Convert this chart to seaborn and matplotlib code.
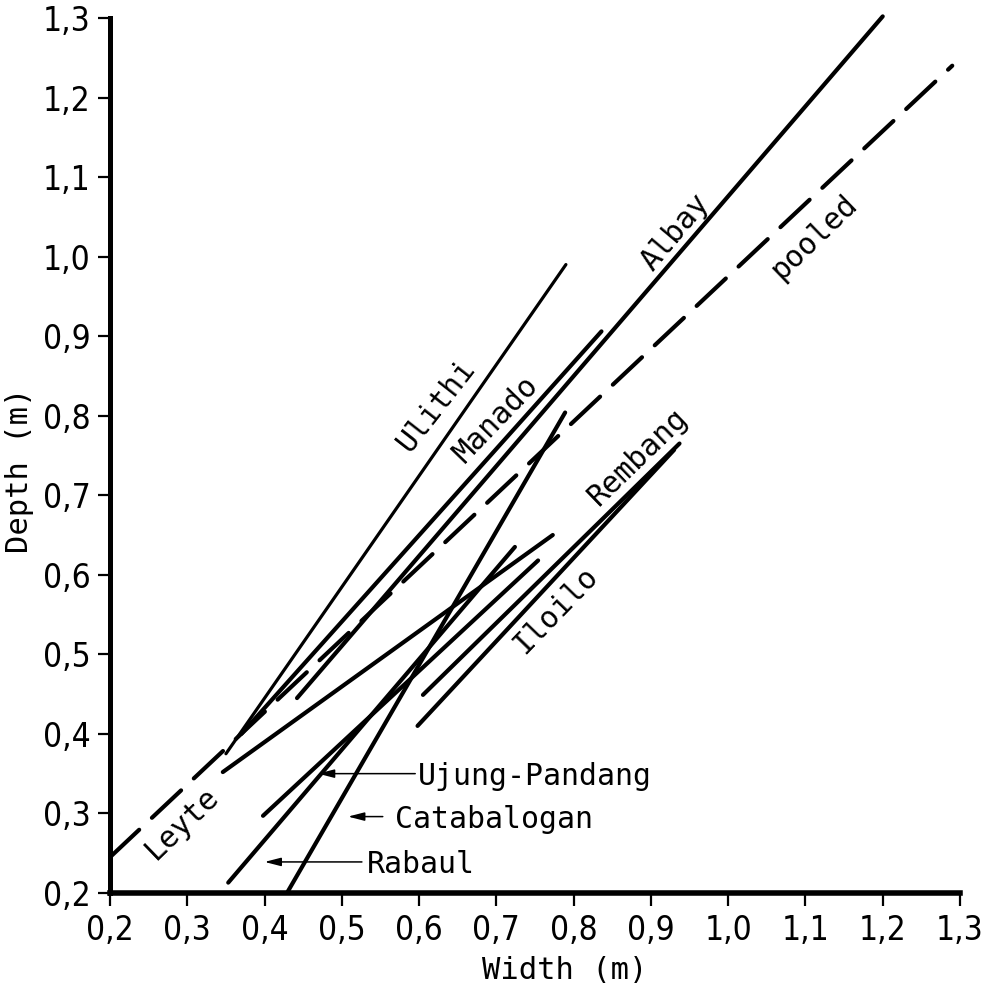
import numpy as np
import pandas as pd
import matplotlib
matplotlib.use("Agg")
import matplotlib.pyplot as plt
from matplotlib import font_manager
import seaborn as sns

# ---- data ----
sites   = ["pooled", "Albay", "Manado", "Ulithi", "Catabalogan", "Rabaul",
           "Ujung-Pandang", "Leyte", "Rembang", "Iloilo"]
x_start = [0.200, 0.442, 0.370, 0.350, 0.429, 0.353, 0.398, 0.346, 0.605, 0.598]
y_start = [0.245, 0.445, 0.400, 0.375, 0.200, 0.213, 0.297, 0.352, 0.449, 0.410]
x_end   = [1.290, 1.200, 0.836, 0.790, 0.789, 0.724, 0.754, 0.773, 0.937, 0.930]
y_end   = [1.240, 1.302, 0.906, 0.990, 0.804, 0.635, 0.618, 0.650, 0.765, 0.757]

x_ticks = [0.2, 0.3, 0.4, 0.5, 0.6, 0.7, 0.8, 0.9, 1.0, 1.1, 1.2, 1.3]
y_ticks = [0.2, 0.3, 0.4, 0.5, 0.6, 0.7, 0.8, 0.9, 1.0, 1.1, 1.2, 1.3]
x_tick_labels = ["0,2", "0,3", "0,4", "0,5", "0,6", "0,7", "0,8", "0,9", "1,0", "1,1", "1,2", "1,3"]
y_tick_labels = ["0,2", "0,3", "0,4", "0,5", "0,6", "0,7", "0,8", "0,9", "1,0", "1,1", "1,2", "1,3"]

# rotated in-line labels: text, x, y, rotation
line_labels = [
    ("Ulithi", 0.623, 0.813, 52),
    ("Manado", 0.700, 0.796, 46),
    ("Albay", 0.931, 1.031, 50),
    ("pooled", 1.111, 1.024, 44),
    ("Rembang", 0.883, 0.748, 44),
    ("Iloilo", 0.777, 0.555, 46),
    ("Leyte", 0.294, 0.288, 44),
]
# arrow labels: text, text x, text y, arrow tail x, arrow head x
arrow_labels = [
    ("Ujung-Pandang", 0.598, 0.350, 0.595, 0.469),
    ("Catabalogan", 0.569, 0.296, 0.553, 0.508),
    ("Rabaul", 0.532, 0.239, 0.526, 0.400),
]

# ---- long table for seaborn ----
rows = []
for s, xa, ya, xb, yb in zip(sites, x_start, y_start, x_end, y_end):
    rows.append({"site": s, "Width": xa, "Depth": ya})
    rows.append({"site": s, "Width": xb, "Depth": yb})
df = pd.DataFrame(rows)

sns.set_style("ticks")
fonts = font_manager.fontManager.ttflist
names = {f.name for f in fonts}
has_condensed = any(f.name == "DejaVu Sans" and str(f.stretch) in ("condensed", "semi-condensed")
                    for f in fonts)
if "Liberation Sans Narrow" in names:
    tick_font = dict(family="Liberation Sans Narrow", fontsize=26)
elif has_condensed:
    tick_font = dict(family="DejaVu Sans", fontstretch="condensed", fontsize=24)
else:
    tick_font = dict(family="DejaVu Sans", fontsize=22)
text_family = "DejaVu Sans Mono"
plt.rcParams["font.family"] = [text_family, "DejaVu Sans"]

fig = plt.figure(figsize=(9.85, 9.88), dpi=100)
ax = fig.add_axes([0.1117, 0.0962, 0.8629, 0.8856])

for s in sites:
    sub = df[df["site"] == s]
    lw = 2.3 if s == "Ulithi" else 3.0
    sns.lineplot(data=sub, x="Width", y="Depth", estimator=None, sort=False,
                 color="black", ax=ax, legend=False, linewidth=lw)

for ln in ax.get_lines():
    ln.set_solid_capstyle("round")
    ln.set_dash_capstyle("round")
    ln.set_clip_on(False)
# pooled is the first line drawn -> dashed
pooled_line = ax.get_lines()[0]
pooled_line.set_linestyle((0, (9.6, 4.2)))
pooled_line.set_dash_capstyle("round")

ax.set_xlim(0.2, 1.3)
ax.set_ylim(0.2, 1.3)
ax.set_xticks(x_ticks)
ax.set_xticklabels(x_tick_labels, **tick_font)
ax.set_yticks(y_ticks)
ax.set_yticklabels(y_tick_labels, **tick_font)
ax.tick_params(axis="both", direction="out", length=9, width=1.6, color="black",
               labelcolor="black", pad=5)
ax.tick_params(axis="x", pad=6)

sns.despine(ax=ax)
ax.spines["left"].set_linewidth(3.6)
ax.spines["bottom"].set_linewidth(4.0)
ax.spines["left"].set_color("black")
ax.spines["bottom"].set_color("black")

ax.set_xlabel("Width (m)", fontsize=22, family=text_family, color="black")
ax.set_ylabel("Depth (m)", fontsize=22, family=text_family, color="black")
ax.xaxis.set_label_coords(0.535, -0.072)
ax.yaxis.set_label_coords(-0.090, 0.483)

for txt, x, y, rot in line_labels:
    ax.text(x, y, txt, rotation=rot, rotation_mode="anchor", ha="center",
            va="center", fontsize=21.5, family=text_family, color="black")

for txt, tx, ty, x0, x1 in arrow_labels:
    ax.annotate("", xy=(x1, ty), xytext=(x0, ty),
                arrowprops=dict(arrowstyle="-|>,head_length=0.7,head_width=0.18",
                                color="black", lw=1.1, mutation_scale=14,
                                shrinkA=0, shrinkB=0))
    ax.text(tx, ty, txt, ha="left", va="center_baseline", fontsize=21.5,
            family=text_family, color="black")

fig.savefig("out.png", dpi=100, facecolor="white")
